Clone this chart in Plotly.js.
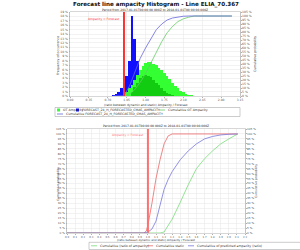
<!DOCTYPE html>
<html><head><meta charset="utf-8">
<script src="https://cdn.plot.ly/plotly-3.0.1.min.js"></script>
<style>html,body{margin:0;padding:0;background:#fff;width:300px;height:250px;overflow:hidden}#c1{width:300px;height:120px}#c2{width:300px;height:130px}</style>
</head><body><div id="c1"></div><div id="c2"></div>
<script>
// ---- top chart data ----
const titleTop = 'Forecast line ampacity Histogram - Line ELIA_70.367';
const periodText = 'Period from 2017-01-01T00:00:00.000Z to 2018-01-01T00:00:00.000Z';
const xTitle = '(ratio between dynamic and static) Ampacity / Forecast';
const yLeftTitle = 'Frequency of occurrence';
const yRightTitle = 'Cumulative probability';
const limitLabel = 'Ampacity = Forecast';
const limitX = [1.0, 1.0];
const limitY = [0, 105];

const blueBins = [0.80,0.85,0.90,0.95,1.00,1.05,1.10,1.15,1.20,1.25,1.30,1.35,1.40];
const blueFreq = [0.3,0.5,0.9,1.8,3.0,4.5,8.0,18.0,13.0,8.0,4.0,2.0,1.0];

const greenBins = [1.05,1.10,1.15,1.20,1.25,1.30,1.35,1.40,1.45,1.50,1.55,1.60,1.65,1.70,1.75,1.80,1.85,1.90,1.95,2.00,2.05,2.10,2.15,2.20,2.25];
const greenFreq = [0.8,1.8,2.6,3.6,4.8,5.8,6.8,7.5,7.7,7.6,7.3,6.9,6.4,5.9,5.3,4.6,3.8,3.0,2.3,1.7,1.2,0.8,0.5,0.3,0.15];

const darkBins = [1.15,1.20,1.25,1.30,1.35,1.40,1.45,1.50,1.55,1.60,1.65,1.70,1.75,1.80,1.85,1.90];
const darkFreq = [1.0,2.0,3.0,4.0,4.5,4.8,4.6,4.2,3.6,3.0,2.4,1.8,1.2,0.7,0.4,0.2];

const blueCumX = [0.80,0.90,1.00,1.10,1.20,1.25,1.30,1.40,1.50,1.60,1.70,1.80,1.90,2.00,2.10,2.20,3.00];
const blueCumY = [0,0.2,0.5,12,30,40,47,60,72,83,90,95,97.5,99,99.7,100,100];
const greenCumX = [1.00,1.10,1.20,1.30,1.40,1.50,1.60,1.70,1.80,1.90,2.00,2.10,2.20,2.30,3.00];
const greenCumY = [0,2,8,17,28,42,56,68,79,87,93,96.5,98.5,100,100];

const legTop = ['OT Ampacity','FORECAST_24_H_FORECASTED_CMAS_AMPACITY','Cumulative OT Ampacity','Cumulative FORECAST_24_H_FORECASTED_CMAS_AMPACITY'];

// ---- bottom chart data ----
const redCum2X = [0,0.95,0.98,1.00,1.05,1.10,1.15,1.20,1.25,1.30,2.11];
const redCum2Y = [0,0,2,8,30,55,74,90,98,100,100];
const blueCum2X = [0,0.95,1.00,1.05,1.10,1.15,1.20,1.25,1.30,1.40,1.50,1.60,1.70,1.80,1.90,2.00,2.11];
const blueCum2Y = [0,0,1,4,12,28,44,54,62,74,83,90,95,97.5,99,99.7,100];
const greenCum2X = [0,1.15,1.20,1.25,1.30,1.40,1.50,1.60,1.70,1.80,1.90,2.00,2.11];
const greenCum2Y = [0,0,1,7,14,31,49,65,75,83,90,95,100];
const legBottom = ['Cumulative (ratio of ampacity)','Cumulative static','Cumulative of predicted ampacity (ratio)'];

const F = 'DejaVu Sans, sans-serif';
const tf = {size:3, family:F, color:'#555'};
const axBase = {gridcolor:'#e6e6e6', gridwidth:0.5, showline:true, linecolor:'#b0b0b0', linewidth:0.5, mirror:true, zeroline:false, ticks:'outside', ticklen:1, tickcolor:'#b0b0b0', tickfont:tf, tickangle:0, automargin:false};

function legendItems(items){
  const ann=[], shp=[];
  items.forEach(it=>{
    const [label,color,kind,x,y,px,py]=it;
    if(kind==='box') shp.push({type:'rect',xref:'paper',yref:'paper',x0:px(x),x1:px(x+3),y0:py(y+1.5),y1:py(y-1.5),fillcolor:color,line:{width:0}});
    else shp.push({type:'line',xref:'paper',yref:'paper',x0:px(x-1),x1:px(x+5),y0:py(y),y1:py(y),line:{color:color,width:0.8}});
    ann.push({text:label,xref:'paper',yref:'paper',x:px(x+(kind==='box'?4:6)),y:py(y),xanchor:'left',yanchor:'middle',showarrow:false,font:{size:3.2,family:F,color:'#333'}});
  });
  return {ann,shp};
}

// pixel -> paper helpers
const p1x = px => (px-70)/170, p1y = py => (96-py)/84;
const p2x = px => (px-67)/178, p2y = py => (233-py)/104;

const leg1 = legendItems([
  [legTop[0],'#33ff33','box',57,110,p1x,p1y],
  [legTop[1],'#1010ff','box',76,110,p1x,p1y],
  [legTop[2],'#66cc66','line',160,110,p1x,p1y],
  [legTop[3],'#6666dd','line',58,114,p1x,p1y]
]);
const leg2 = legendItems([
  [legBottom[0],'#77dd77','line',92,245.8,p2x,p2y],
  [legBottom[1],'#ee6666','line',148,245.8,p2x,p2y],
  [legBottom[2],'#7777dd','line',189,245.8,p2x,p2y]
]);

const t1 = [
 {type:'bar', x:blueBins, y:blueFreq, width:0.05, marker:{color:'#1010ff', line:{width:0}}, yaxis:'y'},
 {type:'bar', x:greenBins, y:greenFreq, width:0.05, marker:{color:'#33ff33', line:{width:0}}, yaxis:'y'},
 {type:'bar', x:darkBins, y:darkFreq, width:0.05, marker:{color:'#11cc11', line:{width:0}}, yaxis:'y'},
 {type:'scatter', mode:'lines', x:greenCumX, y:greenCumY, line:{color:'#66cc66', width:0.8}, yaxis:'y2'},
 {type:'scatter', mode:'lines', x:blueCumX, y:blueCumY, line:{color:'#6666dd', width:0.8}, yaxis:'y2'},
 {type:'scatter', mode:'lines', x:limitX, y:limitY, line:{color:'#ff3030', width:2}, yaxis:'y2'}
];
const l1 = {
 width:300, height:120, margin:{l:70,r:60,t:12,b:24}, paper_bgcolor:'#fff', plot_bgcolor:'#fff',
 font:{family:F, size:4, color:'#333'}, barmode:'overlay', bargap:0, showlegend:false,
 title:{text:'<b>'+titleTop+'</b>', font:{size:5.6, family:F, color:'#111'}, x:0.52, xanchor:'center', y:1-4.5/120, yref:'container', yanchor:'middle'},
 xaxis:Object.assign({}, axBase, {range:[0,3.15], tick0:0, dtick:0.35, tickformat:'.2f'}),
 yaxis:Object.assign({}, axBase, {range:[0,19], dtick:1, ticksuffix:' %'}),
 yaxis2:Object.assign({}, axBase, {overlaying:'y', side:'right', range:[0,105], dtick:5, ticksuffix:' %', showgrid:false}),
 shapes:[{type:'rect',xref:'paper',yref:'paper',x0:p1x(55),x1:p1x(240),y0:p1y(116.5),y1:p1y(107.5),line:{color:'#999',width:0.5},fillcolor:'rgba(0,0,0,0)'}].concat(leg1.shp),
 annotations:[
  {text:periodText, xref:'paper', yref:'paper', x:0.5, y:p1y(9.5), xanchor:'center', yanchor:'middle', showarrow:false, font:{size:3, family:F, color:'#222'}},
  {text:limitLabel, xref:'x', yref:'paper', x:1.0, y:0.97, xanchor:'right', yanchor:'top', xshift:-2, showarrow:false, font:{size:3, family:F, color:'#ff3030'}},
  {text:xTitle, xref:'paper', yref:'paper', x:p1x(146), y:p1y(104.5), xanchor:'center', yanchor:'middle', showarrow:false, font:{size:3, family:F, color:'#333'}},
  {text:yLeftTitle, xref:'paper', yref:'paper', x:p1x(58), y:p1y(56), textangle:-90, xanchor:'center', yanchor:'middle', showarrow:false, font:{size:3.2, family:F, color:'#333'}},
  {text:yRightTitle, xref:'paper', yref:'paper', x:p1x(255), y:p1y(54), textangle:-90, xanchor:'center', yanchor:'middle', showarrow:false, font:{size:3.2, family:F, color:'#333'}}
 ].concat(leg1.ann)
};

const t2 = [
 {type:'scatter', mode:'lines', x:greenCum2X, y:greenCum2Y, line:{color:'#77dd77', width:0.8}},
 {type:'scatter', mode:'lines', x:redCum2X, y:redCum2Y, line:{color:'#ee6666', width:0.8}},
 {type:'scatter', mode:'lines', x:blueCum2X, y:blueCum2Y, line:{color:'#7777dd', width:0.8}},
 {type:'scatter', mode:'lines', x:limitX, y:limitY, line:{color:'#ff7070', width:2}},
 {type:'scatter', mode:'lines', x:[0,2.2], y:[0,105], yaxis:'y2', line:{width:0}, opacity:0}
];
const l2 = {
 width:300, height:130, margin:{l:67,r:55,t:9,b:17}, paper_bgcolor:'#fff', plot_bgcolor:'#fff',
 font:{family:F, size:4, color:'#333'}, showlegend:false,
 xaxis:Object.assign({}, axBase, {range:[0,2.2], tick0:0, dtick:0.1, tickformat:'.1f', tickfont:{size:2.6,family:F,color:'#555'}}),
 yaxis:Object.assign({}, axBase, {range:[0,105], dtick:5, ticksuffix:' %', tickfont:{size:2.8,family:F,color:'#555'}}),
 yaxis2:Object.assign({}, axBase, {overlaying:'y', side:'right', range:[0,105], dtick:5, ticksuffix:' %', showgrid:false, tickfont:{size:2.8,family:F,color:'#555'}}),
 shapes:[{type:'rect',xref:'paper',yref:'paper',x0:p2x(89),x1:p2x(305),y0:p2y(249.5),y1:p2y(242.3),line:{color:'#999',width:0.5},fillcolor:'rgba(0,0,0,0)'}].concat(leg2.shp),
 annotations:[
  {text:periodText, xref:'paper', yref:'paper', x:0.5, y:p2y(126), xanchor:'center', yanchor:'middle', showarrow:false, font:{size:3, family:F, color:'#222'}},
  {text:limitLabel, xref:'x', yref:'paper', x:1.0, y:0.985, xanchor:'right', yanchor:'top', xshift:-2, showarrow:false, font:{size:3, family:F, color:'#ff7070'}},
  {text:xTitle, xref:'paper', yref:'paper', x:p2x(156), y:p2y(240.2), xanchor:'center', yanchor:'middle', showarrow:false, font:{size:2.8, family:F, color:'#333'}},
  {text:yRightTitle, xref:'paper', yref:'paper', x:p2x(58), y:p2y(184), textangle:-90, xanchor:'center', yanchor:'middle', showarrow:false, font:{size:3, family:F, color:'#333'}},
  {text:yRightTitle, xref:'paper', yref:'paper', x:p2x(256), y:p2y(181), textangle:-90, xanchor:'center', yanchor:'middle', showarrow:false, font:{size:3, family:F, color:'#333'}}
 ].concat(leg2.ann)
};
Plotly.newPlot('c1', t1, l1, {staticPlot:true, displayModeBar:false});
Plotly.newPlot('c2', t2, l2, {staticPlot:true, displayModeBar:false});
</script></body></html>
